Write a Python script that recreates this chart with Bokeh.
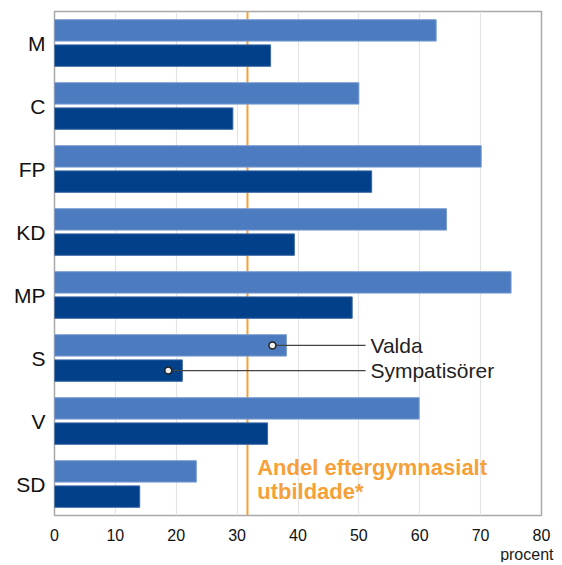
from bokeh.plotting import figure
from bokeh.models import ColumnDataSource, FactorRange, Span, Label, FixedTicker, Title
from bokeh.transform import dodge
from bokeh.core.properties import value
from bokeh.embed import file_html
from bokeh.resources import INLINE

# ---- data ----
parties = ["M", "C", "FP", "KD", "MP", "S", "V", "SD"]
valda = [62.7, 50.0, 70.1, 64.4, 75.0, 38.1, 59.9, 23.3]
sympatisorer = [35.5, 29.3, 52.1, 39.4, 48.9, 21.0, 35.0, 14.0]
andel_eftergymnasialt = 31.7
x_ticks = [0, 10, 20, 30, 40, 50, 60, 70, 80]
series_names = ["Valda", "Sympatisörer"]
annot_party = "S"
annot_points = [35.8, 18.7]
annot_line_end = 51.1
annot_text_x = 51.9

LIGHT = "#4c7bc0"
DARK = "#02418a"
ORANGE = "#f6a03a"
FONT = "Liberation Sans"

source = ColumnDataSource(dict(party=parties, valda=valda, symp=sympatisorer))

p = figure(width=554, height=562,
           y_range=FactorRange(factors=parties[::-1]),
           x_range=(0, 80),
           output_backend="svg", toolbar_location=None,
           min_border_left=54, min_border_right=13,
           min_border_top=11, min_border_bottom=0)

p.outline_line_color = "#a8a8a8"
p.outline_line_width = 1.5
p.background_fill_color = "white"
p.border_fill_color = "white"

p.ygrid.grid_line_color = None
p.xgrid.grid_line_color = "#e4e4e4"
p.xgrid.grid_line_width = 1.2
p.xaxis.ticker = FixedTicker(ticks=x_ticks)

for ax in (p.xaxis[0], p.yaxis[0]):
    ax.axis_line_color = None
    ax.major_tick_line_color = None
    ax.minor_tick_line_color = None
    ax.major_tick_out = 0
    ax.major_tick_in = 0
    ax.minor_tick_out = 0
    ax.major_label_text_font = FONT
    ax.major_label_text_color = "#111111"

p.xaxis.major_label_text_font_size = "16px"
p.xaxis.major_label_standoff = 13
p.yaxis.major_label_text_font_size = "21px"
p.yaxis.major_label_text_align = "center"
p.yaxis.major_label_standoff = 9

# unit label under the x axis, right-aligned
p.add_layout(Title(text="procent", align="right", text_font=FONT,
                   text_font_size="16px", text_font_style="normal",
                   text_color="#1a1a1a", standoff=0, offset=-12), "below")

span = Span(location=andel_eftergymnasialt, dimension="height",
            line_color=ORANGE, line_width=2, level="underlay")
p.add_layout(span)

p.hbar(y=dodge("party", 0.2, range=p.y_range), left=0, right="valda",
       height=0.34, source=source, fill_color=LIGHT, line_color="#7d9dd2", line_width=1)
p.hbar(y=dodge("party", -0.2, range=p.y_range), left=0, right="symp",
       height=0.34, source=source, fill_color=DARK, line_color="#3a66a4", line_width=1)

# annotations for S
for i, off in enumerate([0.2, -0.2]):
    sub = ColumnDataSource(dict(party=[annot_party], x=[annot_points[i]],
                                xe=[annot_line_end], xt=[annot_text_x],
                                name=[series_names[i]]))
    yy = dodge("party", off, range=p.y_range)
    p.segment(x0="x", y0=yy, x1="xe", y1=yy, source=sub,
              line_color="#444444", line_width=1.2)
    p.scatter(x="x", y=yy, source=sub, size=7, marker="circle",
              fill_color="#f0f0f0", line_color="#222222", line_width=1.5)
    p.text(x="xt", y=yy, text="name", source=sub, text_font=value(FONT),
           text_font_size="21px", text_color="#222222",
           text_baseline="middle", text_align="left")

# orange annotation
for txt, yv in [("Andel eftergymnasialt", 0.76), ("utbildade*", 0.385)]:
    p.add_layout(Label(x=33.3, y=yv, text=txt, text_font=FONT,
                       text_font_style="bold", text_font_size="22px",
                       text_color=ORANGE, text_baseline="middle",
                       text_align="left"))

open("out.html", "w").write(file_html(p, INLINE))
